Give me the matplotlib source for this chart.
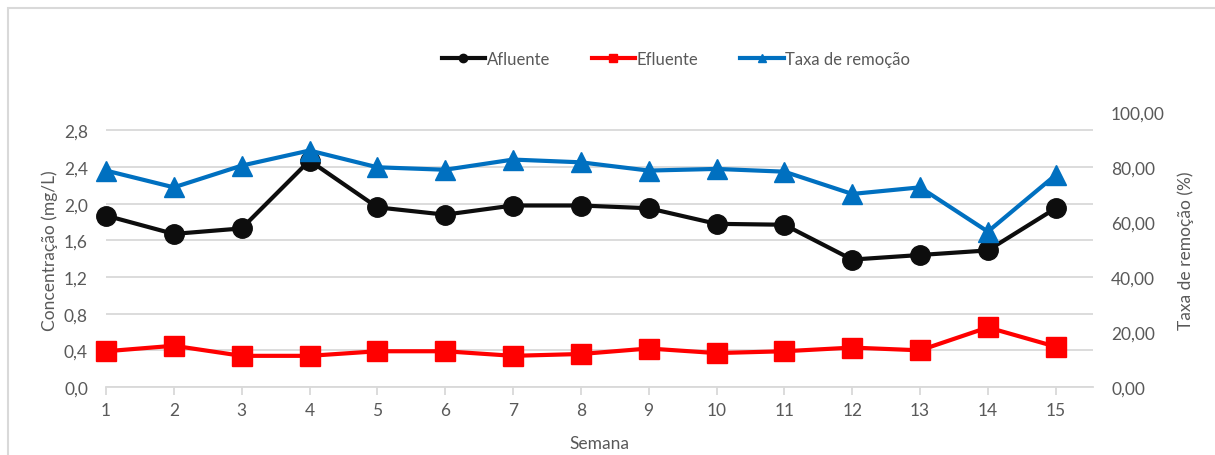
import matplotlib
matplotlib.use("Agg")
import matplotlib.pyplot as plt
from matplotlib.lines import Line2D
from matplotlib.patches import Rectangle

plt.rcParams['font.family'] = ['Lato', 'DejaVu Sans']

semanas = list(range(1, 16))
afluente = [1.87, 1.67, 1.73, 2.47, 1.96, 1.88, 1.98, 1.98, 1.95, 1.78, 1.77, 1.39, 1.44, 1.49, 1.95]
efluente = [0.39, 0.45, 0.34, 0.34, 0.39, 0.39, 0.34, 0.36, 0.42, 0.37, 0.39, 0.43, 0.40, 0.65, 0.44]
taxa_remocao = [78.7, 72.6, 80.5, 86.0, 79.9, 79.0, 82.7, 81.7, 78.7, 79.3, 78.3, 70.2, 72.6, 56.5, 77.1]

left_ticks = [0.0, 0.4, 0.8, 1.2, 1.6, 2.0, 2.4, 2.8]
right_ticks = [0, 20, 40, 60, 80, 100]

TXT = '#595959'
GRID = '#d9d9d9'
BLACK = '#0d0d0d'
RED = '#ff0000'
BLUE = '#0070c0'

fig = plt.figure(figsize=(12.15, 4.56), dpi=100)

# light frame around the chart area
fig.add_artist(Rectangle((8 / 1215, -0.05), 1.2, 1 - 9 / 456 + 0.05,
                         transform=fig.transFigure, fill=False,
                         edgecolor='#d9d9d9', linewidth=1.5))

ax = fig.add_axes([106 / 1215, 1 - 388 / 456, (1093 - 106) / 1215, (388 - 113) / 456])
ax2 = ax.twinx()

ax.set_xlim(1, 15.55)
ax.set_ylim(0, 3.0)
ax2.set_ylim(0, 100)

ax.set_yticks(left_ticks)
ax.set_yticklabels([f"{v:.1f}".replace('.', ',') for v in left_ticks])
ax2.set_yticks(right_ticks)
ax2.set_yticklabels([f"{v:.2f}".replace('.', ',') for v in right_ticks])
ax.set_xticks(semanas)
ax.set_xticklabels([str(s) for s in semanas])

for a in (ax, ax2):
    for s in a.spines.values():
        s.set_visible(False)
ax.spines['bottom'].set_visible(True)
ax.spines['bottom'].set_color(GRID)
ax.spines['bottom'].set_linewidth(1.3)

ax.yaxis.grid(True, color=GRID, linewidth=1.3)
ax.set_axisbelow(True)
ax.tick_params(axis='y', length=0, labelsize=12.5, labelcolor=TXT, pad=13)
ax2.tick_params(axis='y', length=0, labelsize=12.5, labelcolor=TXT, pad=13)
ax.tick_params(axis='x', length=6, width=1.3, color=GRID, labelsize=12.5,
               labelcolor=TXT, pad=5)

ax.set_xlabel('Semana', fontsize=12.5, color=TXT, labelpad=12)
ax.set_ylabel('Concentração (mg/L)', fontsize=12.5, color=TXT, labelpad=4)
ax2.set_ylabel('Taxa de remoção (%)', fontsize=12.5, color=TXT, labelpad=9)

ax.plot(semanas, afluente, color=BLACK, linewidth=3, marker='o', markersize=14,
        zorder=3, clip_on=False)
ax.plot(semanas, efluente, color=RED, linewidth=3, marker='s', markersize=14,
        zorder=3, clip_on=False)
ax2.plot(semanas, taxa_remocao, color=BLUE, linewidth=3, marker='^', markersize=15,
         zorder=3, clip_on=False)

handles = [
    Line2D([], [], color=BLACK, linewidth=3, marker='o', markersize=6),
    Line2D([], [], color=RED, linewidth=3, marker='s', markersize=6),
    Line2D([], [], color=BLUE, linewidth=3, marker='^', markersize=6),
]
fig.legend(handles, ['Afluente', 'Efluente', 'Taxa de remoção'],
           loc='center', bbox_to_anchor=(676 / 1215, 1 - 60 / 456), ncol=3,
           frameon=False, fontsize=12, labelcolor=TXT, handlelength=2.6,
           handletextpad=0.1, columnspacing=2.5)

fig.savefig('out.png', dpi=100)
